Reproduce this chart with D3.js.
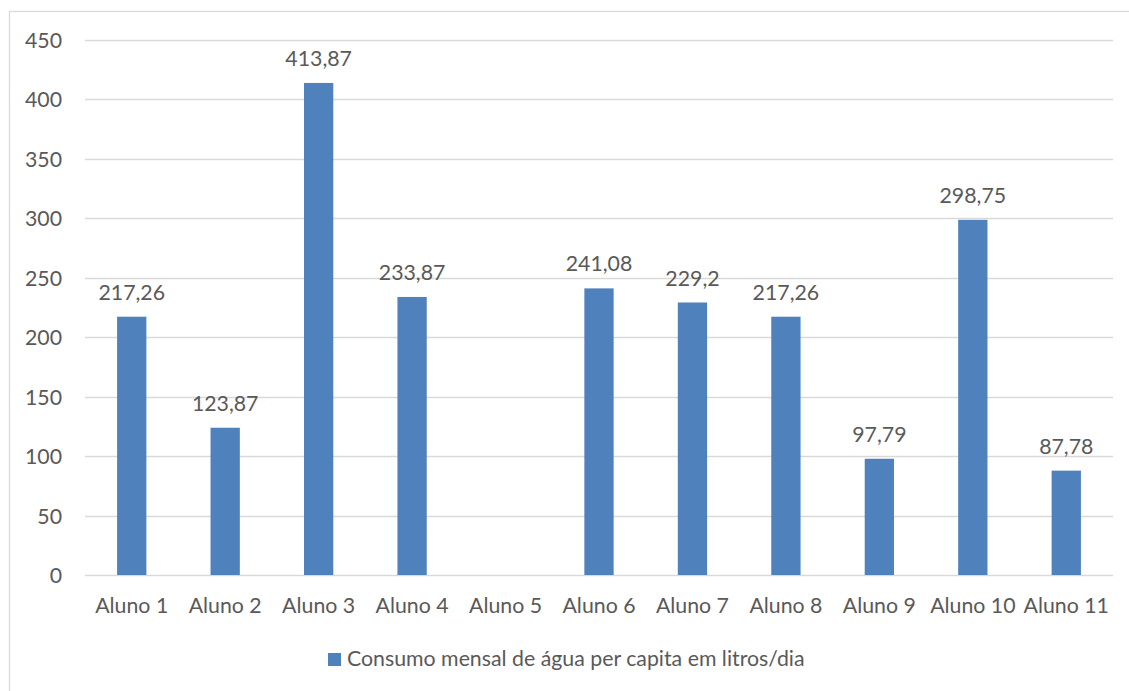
<!DOCTYPE html>
<html>
<head>
<meta charset="utf-8">
<script src="https://cdn.jsdelivr.net/npm/d3@7/dist/d3.min.js"></script>
<style>
  html, body { margin: 0; padding: 0; background: #fff; }
  svg { display: block; }
  text { font-family: Lato, "Open Sans", sans-serif; fill: #595959; }
</style>
</head>
<body>
<svg id="chart" width="1129" height="691"></svg>
<script>
// Consumo mensal de água per capita (litros/dia) por aluno
const categories = ["Aluno 1", "Aluno 2", "Aluno 3", "Aluno 4", "Aluno 5", "Aluno 6",
                    "Aluno 7", "Aluno 8", "Aluno 9", "Aluno 10", "Aluno 11"];
const consumo = [217.26, 123.87, 413.87, 233.87, null, 241.08, 229.2, 217.26, 97.79, 298.75, 87.78];
const yTicks = [0, 50, 100, 150, 200, 250, 300, 350, 400, 450];
const seriesName = "Consumo mensal de água per capita em litros/dia";

const svg = d3.select("#chart");
const W = 1129, H = 691;
const plot = { left: 85, right: 1113, top: 40, bottom: 575 };
const fontSize = 21.3;

// outer chart frame
svg.append("rect")
  .attr("x", 9.5).attr("y", 11.5)
  .attr("width", W + 20).attr("height", H + 20)
  .attr("fill", "none").attr("stroke", "#D9D9D9").attr("stroke-width", 1.3);

const x = d3.scaleBand().domain(categories).range([plot.left, plot.right]).paddingInner(0).paddingOuter(0);
const y = d3.scaleLinear().domain([0, 450]).range([plot.bottom, plot.top]);

// gridlines
svg.append("g").selectAll("line").data(yTicks).join("line")
  .attr("x1", plot.left).attr("x2", plot.right)
  .attr("y1", d => Math.round(y(d)) + 0.5).attr("y2", d => Math.round(y(d)) + 0.5)
  .attr("stroke", "#D9D9D9").attr("stroke-width", 1.3);

// y axis labels
const yAxis = d3.axisLeft(y).tickValues(yTicks).tickSize(0).tickPadding(0);
const gy = svg.append("g").attr("transform", `translate(62,0)`).call(yAxis);
gy.select(".domain").remove();
gy.selectAll("text").attr("font-size", fontSize).attr("font-family", null).attr("fill", "#595959").attr("dy", "0.35em");

// bars
const barW = x.bandwidth() / 3.19;
const data = categories.map((c, i) => ({ c, v: consumo[i] })).filter(d => d.v != null);
svg.append("g").selectAll("rect").data(data).join("rect")
  .attr("x", d => x(d.c) + (x.bandwidth() - barW) / 2)
  .attr("width", barW)
  .attr("y", d => y(d.v))
  .attr("height", d => y(0) - y(d.v))
  .attr("fill", "#4F81BD");

// value labels
svg.append("g").selectAll("text").data(data).join("text")
  .attr("x", d => x(d.c) + x.bandwidth() / 2)
  .attr("y", d => y(d.v) - 17)
  .attr("text-anchor", "middle")
  .attr("font-size", fontSize)
  .attr("fill", "#404040")
  .text(d => String(d.v).replace(".", ","));

// x axis labels
const xAxis = d3.axisBottom(x).tickSize(0).tickPadding(0);
const gx = svg.append("g").attr("transform", `translate(0,${plot.bottom})`).call(xAxis);
gx.select(".domain").remove();
gx.selectAll("text").attr("font-size", fontSize).attr("font-family", null).attr("fill", "#595959")
  .attr("dy", null).attr("y", 38);

// legend
const legend = svg.append("g");
legend.append("rect").attr("x", 328).attr("y", 653).attr("width", 13).attr("height", 13).attr("fill", "#4F81BD");
legend.append("text").attr("x", 347).attr("y", 666).attr("font-size", fontSize).text(seriesName);
</script>
</body>
</html>
